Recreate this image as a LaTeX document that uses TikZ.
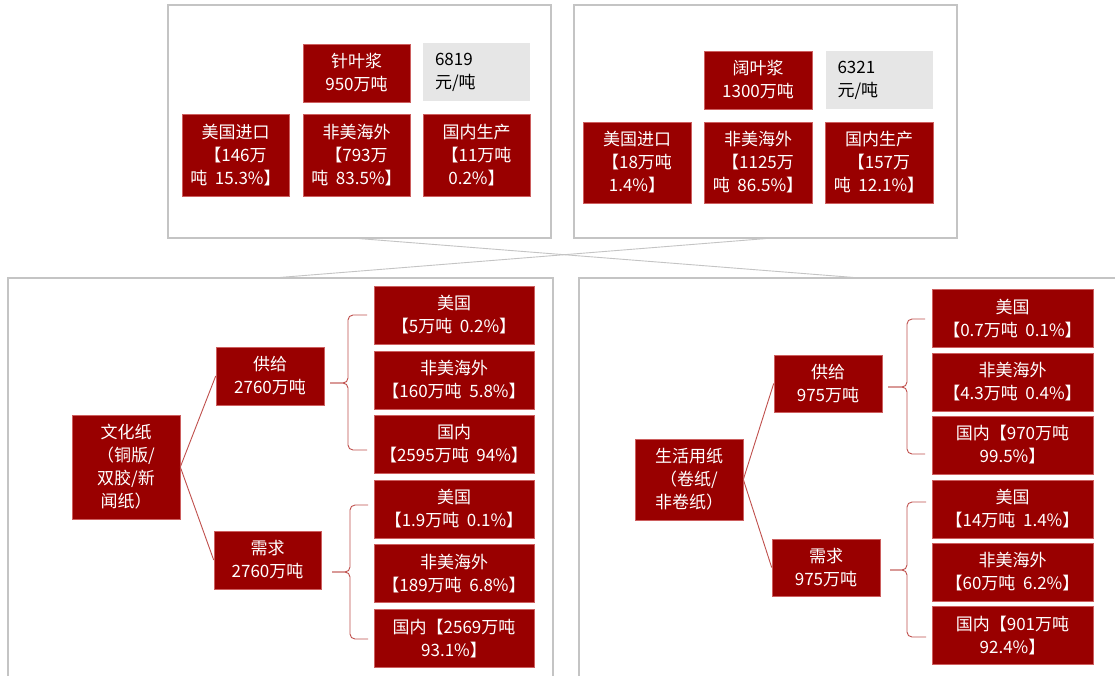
\documentclass[tikz,border=0pt]{standalone}
\usepackage{fontspec}
\setmainfont{Noto Sans CJK SC}
\definecolor{boxred}{RGB}{153,0,0}
\definecolor{boxedge}{RGB}{205,95,95}
\definecolor{linkred}{RGB}{192,80,77}
\definecolor{panelgray}{RGB}{196,196,196}
\definecolor{pricegray}{RGB}{230,230,230}
\newcommand\gap{\hspace{0.45em}}
\tikzset{
  redbox/.style={fill=boxred, draw=boxedge, line width=0.6pt, text=white, align=center,
    inner sep=0pt, font=\fontsize{17}{23}\selectfont},
  pricebox/.style={fill=pricegray, draw=none, text=black, align=left, inner xsep=12pt,
    inner ysep=0pt, text width=83pt, font=\fontsize{17}{23}\selectfont},
  panel/.style={draw=panelgray, line width=1.2pt, inner sep=0pt},
  cross/.style={draw=panelgray, line width=0.9pt},
  link/.style={draw=linkred, line width=0.9pt},
  bracepath/.style={draw=linkred, line width=0.9pt, rounded corners=5pt},
  wS/.style={minimum width=107pt, minimum height=58pt},
  wT/.style={minimum width=107pt, minimum height=82pt},
  wL/.style={minimum width=160pt, minimum height=58pt}
}
\newcommand\mybrace[4]{%
  \draw[bracepath] (#1) -- (#2 |- #1) -- (#2 |- #3) -- (#3);
  \draw[bracepath] (#1) -- (#2 |- #1) -- (#2 |- #4) -- (#4);}
\begin{document}
\begin{tikzpicture}[x=1pt,y=-1pt]
\clip (0,0) rectangle (1115,675);
\fill[white] (0,0) rectangle (1115,675);
% panels
\node[panel, minimum width=383pt, minimum height=233pt] (ptl) at (359.5,121.5) {};
\node[panel, minimum width=383pt, minimum height=233pt] (ptr) at (765.5,121.5) {};
\node[panel, minimum width=545pt, minimum height=442pt] (pbl) at (280.5,499) {};
\node[panel, minimum width=548pt, minimum height=442pt] (pbr) at (853,499) {};
\draw[cross] (ptl.south) -- (pbr.north);
\draw[cross] (ptr.south) -- (pbl.north);
% top left
\node[redbox, wS] (zhen) at (356.5,73) {针叶浆\\950万吨};
\node[pricebox, minimum height=58pt] (price1) at (476.5,72) {6819\\元/吨};
\node[redbox, wT] (us1) at (235.5,155) {美国进口\\【146万\\吨\gap 15.3\%】};
\node[redbox, wT] (nus1) at (356.5,155) {非美海外\\【793万\\吨\gap 83.5\%】};
\node[redbox, wT] (dom1) at (476.5,155) {国内生产\\【11万吨\\0.2\%】};
% top right
\node[redbox, wS, minimum width=108pt] (kuo) at (758,80) {阔叶浆\\1300万吨};
\node[pricebox, minimum height=58pt] (price2) at (879,80) {6321\\元/吨};
\node[redbox, wT, minimum width=108pt, minimum height=81pt] (us2) at (637,162.5) {美国进口\\【18万吨\\1.4\%】};
\node[redbox, wT, minimum width=108pt, minimum height=81pt] (nus2) at (758,162.5) {非美海外\\【1125万\\吨\gap 86.5\%】};
\node[redbox, wT, minimum width=108pt, minimum height=81pt] (dom2) at (879,162.5) {国内生产\\【157万\\吨\gap 12.1\%】};
% bottom left
\node[redbox, minimum width=108pt, minimum height=104pt] (wh) at (126,467) {文化纸\\（铜版/\\双胶/新\\闻纸）};
\node[redbox, wS, minimum width=108pt] (gj1) at (270,376) {供给\\2760万吨};
\node[redbox, wS] (xq1) at (267.5,560) {需求\\2760万吨};
\node[redbox, wL] (a1) at (454,315) {美国\\【5万吨\gap 0.2\%】};
\node[redbox, wL] (a2) at (454,380) {非美海外\\【160万吨\gap 5.8\%】};
\node[redbox, wL] (a3) at (454,444) {国内\\【2595万吨\gap 94\%】};
\node[redbox, wL] (a4) at (454,509) {美国\\【1.9万吨\gap 0.1\%】};
\node[redbox, wL] (a5) at (454,573.5) {非美海外\\【189万吨\gap 6.8\%】};
\node[redbox, wL] (a6) at (454,638.5) {国内【2569万吨\\93.1\%】};
\draw[link] (wh.east) -- (gj1.west);
\draw[link] (wh.east) -- (xq1.west);
\coordinate (l1s) at (330,383); \coordinate (l1v) at (348,0);
\coordinate (l1t) at (367,315); \coordinate (l1b) at (367,450);
\mybrace{l1s}{l1v}{l1t}{l1b}
\coordinate (l2s) at (332,572); \coordinate (l2v) at (350,0);
\coordinate (l2t) at (368,505); \coordinate (l2b) at (368,639);
\mybrace{l2s}{l2v}{l2t}{l2b}
% bottom right
\node[redbox, minimum width=108pt, minimum height=81pt] (sh) at (689,479.5) {生活用纸\\（卷纸/\\非卷纸）};
\node[redbox, minimum width=108pt, minimum height=57pt] (gj2) at (828,383.5) {供给\\975万吨};
\node[redbox, minimum width=108pt, minimum height=57pt] (xq2) at (826,567.5) {需求\\975万吨};
\node[redbox, wL, minimum width=161pt] (c1) at (1012.5,318.5) {美国\\【0.7万吨\gap 0.1\%】};
\node[redbox, wL, minimum width=161pt] (c2) at (1012.5,382) {非美海外\\【4.3万吨\gap 0.4\%】};
\node[redbox, wL, minimum width=161pt] (c3) at (1012.5,445) {国内【970万吨\\99.5\%】};
\node[redbox, wL, minimum width=161pt] (c4) at (1012.5,509) {美国\\【14万吨\gap 1.4\%】};
\node[redbox, wL, minimum width=161pt] (c5) at (1012.5,572) {非美海外\\【60万吨\gap 6.2\%】};
\node[redbox, wL, minimum width=161pt] (c6) at (1012.5,635.5) {国内【901万吨\\92.4\%】};
\draw[link] (sh.east) -- (gj2.west);
\draw[link] (sh.east) -- (xq2.west);
\coordinate (r1s) at (888,387); \coordinate (r1v) at (907,0);
\coordinate (r1t) at (925,319); \coordinate (r1b) at (925,454);
\mybrace{r1s}{r1v}{r1t}{r1b}
\coordinate (r2s) at (890,570); \coordinate (r2v) at (907,0);
\coordinate (r2t) at (926,502); \coordinate (r2b) at (926,637);
\mybrace{r2s}{r2v}{r2t}{r2b}
\end{tikzpicture}
\end{document}
